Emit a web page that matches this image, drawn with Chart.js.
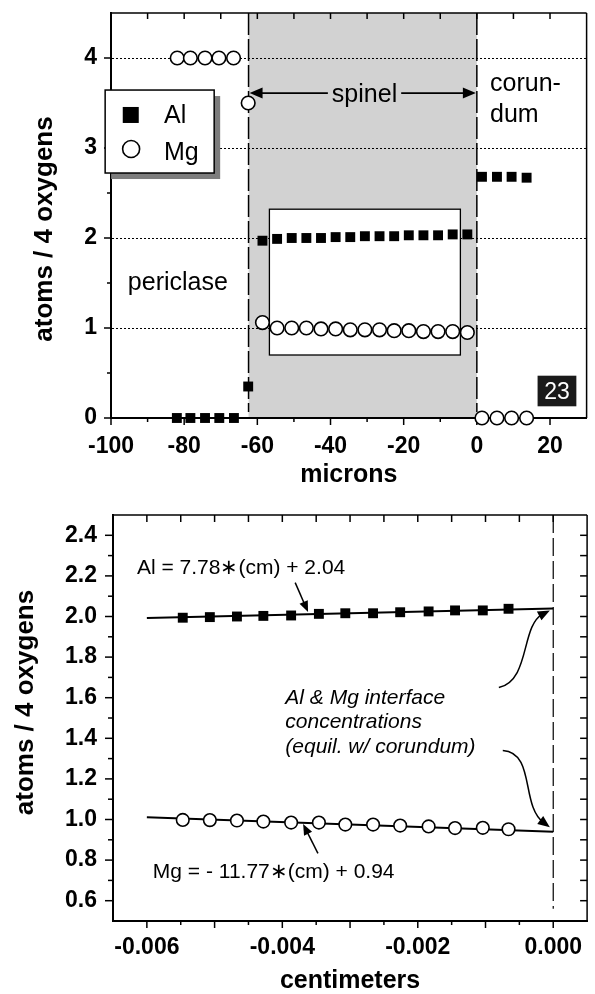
<!DOCTYPE html>
<html><head><meta charset="utf-8">
<script src="https://cdn.jsdelivr.net/npm/chart.js@4.4.1/dist/chart.umd.min.js"></script>
<style>
html,body{margin:0;padding:0;background:#fff;}
#wrap{position:relative;width:595px;height:994px;overflow:hidden;background:#fff;}
canvas{position:absolute;left:0;}
#c1{top:0;} #c2{top:500px;}
</style></head><body>
<div id="wrap">
<canvas id="c1" width="595" height="500"></canvas>
<canvas id="c2" width="595" height="494"></canvas>
</div>
<script>
// ---------------- TOP PANEL DATA (microns vs atoms / 4 oxygens) ----------------
const alMicrons = [-82.0,-78.3,-74.3,-70.4,-66.4,-62.5,
  -58.6,-54.6,-50.6,-46.6,-42.6,-38.6,-34.6,-30.6,-26.6,-22.6,-18.6,-14.6,-10.6,-6.6,-2.6,
  1.4,5.5,9.5,13.6];
const alAtoms = [0,0,0,0,0,0.35,
  1.97,1.99,2.00,2.00,2.00,2.01,2.01,2.02,2.02,2.02,2.03,2.03,2.03,2.04,2.04,
  2.68,2.68,2.68,2.67];
const mgMicrons = [-81.9,-78.3,-74.3,-70.5,-66.5,-62.5,
  -58.6,-54.6,-50.6,-46.6,-42.6,-38.6,-34.6,-30.6,-26.6,-22.6,-18.6,-14.6,-10.6,-6.6,-2.6,
  1.4,5.5,9.5,13.6];
const mgAtoms = [4,4,4,4,4,3.5,
  1.06,1.00,1.00,1.00,0.99,0.99,0.98,0.98,0.98,0.97,0.97,0.96,0.96,0.96,0.95,
  0,0,0,0];
const interfaces = [-62.4, 0];          // periclase|spinel, spinel|corundum
const topXTicks = [-100,-80,-60,-40,-20,0,20];
const topXMinor = [-90,-70,-50,-30,-10,10];
const topYTicks = [0,1,2,3,4];
const topYMinor = [0.5,1.5,2.5,3.5];

// ---------------- BOTTOM PANEL DATA (centimeters vs atoms / 4 oxygens) ----------------
const insetCm = [-0.00547,-0.00507,-0.00467,-0.00428,-0.00387,-0.00346,-0.00307,-0.00266,-0.00226,-0.00184,-0.00145,-0.00104,-0.00066];
const alInset = [1.994,1.997,2.000,2.003,2.005,2.013,2.016,2.016,2.021,2.025,2.030,2.030,2.038];
const mgInset = [0.998,0.997,0.995,0.990,0.985,0.985,0.975,0.975,0.970,0.966,0.958,0.959,0.952];
const fitCm = [-0.006, 0.000];
const alFit = [1.993, 2.040];
const mgFit = [1.011, 0.940];
const botXTicks = [-0.006,-0.004,-0.002,0.000];
const botXMajor = [-0.006,-0.005,-0.004,-0.003,-0.002,-0.001,0.000];
const botXMinor = [-0.0055,-0.0045,-0.0035,-0.0025,-0.0015,-0.0005];
const botYTicks = [0.6,0.8,1.0,1.2,1.4,1.6,1.8,2.0,2.2,2.4];
const botYMinor = [0.7,0.9,1.1,1.3,1.5,1.7,1.9,2.1,2.3];

const FONT = '"Liberation Sans", Arial, Helvetica, sans-serif';
const pts = (xs, ys) => xs.map((x, i) => ({x, y: ys[i]}));

function line(ctx, x1, y1, x2, y2){ ctx.beginPath(); ctx.moveTo(x1,y1); ctx.lineTo(x2,y2); ctx.stroke(); }
function arrowHead(ctx, x, y, ang, len, w){
  const c = Math.cos(ang), s = Math.sin(ang);
  ctx.beginPath();
  ctx.moveTo(x, y);
  ctx.lineTo(x - len*c + w*s, y - len*s - w*c);
  ctx.lineTo(x - len*c - w*s, y - len*s + w*c);
  ctx.closePath(); ctx.fill();
}
function text(ctx, s, x, y, font, align, color){
  ctx.font = font; ctx.fillStyle = color || '#000';
  ctx.textAlign = align || 'left'; ctx.textBaseline = 'alphabetic';
  ctx.fillText(s, x, y);
}
function fixX(h){ return s => { s.height = h; s.paddingLeft = 0; s.paddingRight = 0; s.paddingTop = 0; s.paddingBottom = 0; }; }
function fixY(w){ return s => { s.width = w; s.paddingLeft = 0; s.paddingRight = 0; s.paddingTop = 0; s.paddingBottom = 0; }; }
// nudge layout padding so the plot area lands on the wanted frame
function pinArea(chart, want){
  for (let k = 0; k < 3; k++){
    const a = chart.chartArea, p = chart.options.layout.padding;
    const dl = want.left - a.left, dr = a.right - want.right, dt = want.top - a.top, db = a.bottom - want.bottom;
    if (Math.abs(dl) + Math.abs(dr) + Math.abs(dt) + Math.abs(db) < 0.5) break;
    p.left += dl; p.right += dr; p.top += dt; p.bottom += db;
    chart.update('none');
  }
}

// ---------------- TOP CHART ----------------
const topDecor = {
  id: 'topDecor',
  beforeDraw(chart){
    const {ctx, chartArea: a} = chart;
    const X = chart.scales.x;
    ctx.save();
    ctx.fillStyle = '#fff'; ctx.fillRect(0, 0, chart.width, chart.height);
    const x0 = X.getPixelForValue(interfaces[0]), x1 = X.getPixelForValue(interfaces[1]);
    ctx.fillStyle = '#d2d2d2'; ctx.fillRect(x0, a.top, x1 - x0, a.bottom - a.top);
    ctx.restore();
  },
  beforeDatasetsDraw(chart){
    const {ctx, chartArea: a} = chart;
    const X = chart.scales.x, Y = chart.scales.y;
    const P = (x, y) => [X.getPixelForValue(x), Y.getPixelForValue(y)];
    ctx.save();
    ctx.strokeStyle = '#000'; ctx.fillStyle = '#000'; ctx.lineWidth = 1.5;
    // frame top/right
    line(ctx, a.left, a.top, a.right, a.top);
    line(ctx, a.right, a.top, a.right, a.bottom);
    // tick marks
    topYTicks.forEach(v => { const y = Y.getPixelForValue(v); line(ctx, a.left - 7, y, a.left, y); });
    topYMinor.forEach(v => { const y = Y.getPixelForValue(v); line(ctx, a.left - 4, y, a.left, y); });
    topXTicks.forEach(v => { const x = X.getPixelForValue(v); line(ctx, x, a.bottom, x, a.bottom + 7); });
    topXMinor.forEach(v => { const x = X.getPixelForValue(v); line(ctx, x, a.bottom, x, a.bottom + 4); });
    topXTicks.concat(topXMinor).forEach(v => { if (v > -100) { const x = X.getPixelForValue(v); line(ctx, x, a.top, x, a.top + 6); } });
    // interface dashed lines
    ctx.setLineDash([22, 4]); ctx.lineWidth = 1.5;
    interfaces.forEach(v => { const x = X.getPixelForValue(v); line(ctx, x, a.top, x, a.bottom - 6); });
    ctx.setLineDash([]);
    // inner white box (spinel inset region)
    let [bx0, by0] = P(-56.7, 2.32), [bx1, by1] = P(-4.5, 0.70);
    ctx.fillStyle = '#fff'; ctx.fillRect(bx0, by0, bx1 - bx0, by1 - by0);
    ctx.lineWidth = 1.3; ctx.strokeRect(bx0, by0, bx1 - bx0, by1 - by0);
    // spinel arrow
    ctx.fillStyle = '#000';
    const [sx0, sy] = P(interfaces[0], 3.61), [sx1] = P(interfaces[1], 3.61);
    const [tx, tyb] = P(-30.7, 3.51);
    ctx.font = '25px ' + FONT;
    const tw = ctx.measureText('spinel').width;
    ctx.lineWidth = 1.8;
    line(ctx, sx0 + 8, sy, tx - tw/2 - 4, sy);
    line(ctx, tx + tw/2 + 4, sy, sx1 - 8, sy);
    arrowHead(ctx, sx0 + 1, sy, Math.PI, 13, 5.5);
    arrowHead(ctx, sx1 - 1, sy, 0, 13, 5.5);
    text(ctx, 'spinel', tx, tyb, '25px ' + FONT, 'center');
    // region labels
    let p = P(-95.4, 1.42); text(ctx, 'periclase', p[0], p[1], '25px ' + FONT);
    p = P(3.6, 3.63); text(ctx, 'corun-', p[0], p[1], '25px ' + FONT);
    p = P(3.6, 3.29); text(ctx, 'dum', p[0], p[1], '25px ' + FONT);
    // panel number badge
    let [gx0, gy0] = P(16.6, 0.47), [gx1, gy1] = P(27.2, 0.13);
    ctx.fillStyle = '#1a1a1a'; ctx.fillRect(gx0, gy0, gx1 - gx0, gy1 - gy0);
    text(ctx, '23', (gx0 + gx1)/2, gy1 - 7, '23px ' + FONT, 'center', '#fff');
    // legend with shadow
    let [lx0, ly0] = P(-101.6, 3.644), [lx1, ly1] = P(-71.8, 2.722);
    ctx.fillStyle = '#7d7d7d'; ctx.fillRect(lx0 + 6, ly0 + 6, lx1 - lx0, ly1 - ly0);
    ctx.fillStyle = '#fff'; ctx.fillRect(lx0, ly0, lx1 - lx0, ly1 - ly0);
    ctx.strokeStyle = '#000'; ctx.lineWidth = 1.5; ctx.strokeRect(lx0, ly0, lx1 - lx0, ly1 - ly0);
    ctx.fillStyle = '#000';
    p = P(-94.6, 3.367); ctx.fillRect(p[0] - 8, p[1] - 8, 16, 16);
    p = P(-94.5, 2.989); ctx.beginPath(); ctx.arc(p[0], p[1], 8.5, 0, Math.PI*2); ctx.fillStyle = '#fff'; ctx.fill(); ctx.lineWidth = 1.6; ctx.stroke();
    p = P(-85.5, 3.278); text(ctx, 'Al', p[0], p[1], '25px ' + FONT);
    p = P(-85.5, 2.867); text(ctx, 'Mg', p[0], p[1], '25px ' + FONT);
    ctx.restore();
  },
  afterDraw(chart){
    const ctx = chart.ctx;
    ctx.save();
    ctx.translate(52, 229); ctx.rotate(-Math.PI/2);
    text(ctx, 'atoms / 4 oxygens', 0, 0, 'bold 26px ' + FONT, 'center');
    ctx.restore();
  }
};

const tickFont = {family: FONT, size: 23, weight: 'bold', lineHeight: 1};
const titleFont = {family: FONT, size: 25, weight: 'bold', lineHeight: 1};

const chartTop = new Chart(document.getElementById('c1'), {
  type: 'scatter',
  data: {datasets: [
    {label: 'Al', data: pts(alMicrons, alAtoms), pointStyle: 'rect', pointRadius: 7, pointBackgroundColor: '#000', pointBorderColor: '#000', pointBorderWidth: 0, showLine: false, clip: false},
    {label: 'Mg', data: pts(mgMicrons, mgAtoms), pointStyle: 'circle', pointRadius: 6.8, pointBackgroundColor: '#fff', pointBorderColor: '#000', pointBorderWidth: 1.6, showLine: false, clip: false}
  ]},
  options: {
    responsive: false, animation: false, events: [],
    layout: {padding: {top: 13, right: 3, left: 0, bottom: 0}},
    plugins: {legend: {display: false}, tooltip: {enabled: false}},
    scales: {
      x: {type: 'linear', min: -100, max: 30,
        afterBuildTicks: s => { s.ticks = topXTicks.map(v => ({value: v})); },
        afterFit: fixX(82),
        grid: {display: false, drawTicks: false},
        border: {display: true, color: '#000', width: 2},
        ticks: {padding: 17, color: '#000', font: tickFont, maxRotation: 0, autoSkip: false, callback: v => String(v)},
        title: {display: true, text: 'microns', color: '#000', font: titleFont, padding: {top: 0, bottom: 12}}
      },
      y: {type: 'linear', min: 0, max: 4.5,
        afterBuildTicks: s => { s.ticks = topYTicks.map(v => ({value: v})); },
        afterFit: fixY(111),
        grid: {display: true, drawTicks: false, color: '#000', lineWidth: 1},
        border: {display: true, color: '#000', width: 2, dash: [2, 2]},
        ticks: {padding: 14, color: '#000', font: tickFont, callback: v => String(v)}
      }
    }
  },
  plugins: [topDecor]
});
pinArea(chartTop, {left: 111, right: 592, top: 13, bottom: 418});

// ---------------- BOTTOM CHART ----------------
const botDecor = {
  id: 'botDecor',
  beforeDraw(chart){
    const ctx = chart.ctx;
    ctx.save(); ctx.fillStyle = '#fff'; ctx.fillRect(0, 0, chart.width, chart.height); ctx.restore();
  },
  beforeDatasetsDraw(chart){
    const {ctx, chartArea: a} = chart;
    const X = chart.scales.x, Y = chart.scales.y;
    ctx.save();
    ctx.strokeStyle = '#000'; ctx.lineWidth = 1.5;
    line(ctx, a.left, a.top, a.right, a.top);
    line(ctx, a.right, a.top, a.right, a.bottom);
    botYTicks.forEach(v => { const y = Y.getPixelForValue(v); line(ctx, a.left - 8, y, a.left, y); line(ctx, a.right - 7, y, a.right, y); });
    botYMinor.forEach(v => { const y = Y.getPixelForValue(v); line(ctx, a.left - 5, y, a.left, y); line(ctx, a.right - 7, y, a.right, y); });
    botXMajor.forEach(v => { const x = X.getPixelForValue(v); line(ctx, x, a.bottom, x, a.bottom + 7); line(ctx, x, a.top, x, a.top + 7); });
    botXMinor.forEach(v => { const x = X.getPixelForValue(v); line(ctx, x, a.bottom, x, a.bottom + 4); line(ctx, x, a.top, x, a.top + 7); });
    // interface at x = 0
    ctx.setLineDash([18, 5]); ctx.lineWidth = 1.2;
    const x0 = X.getPixelForValue(0);
    line(ctx, x0, a.top, x0, Y.getPixelForValue(0.56));
    ctx.restore();
  },
  afterDatasetsDraw(chart){
    const {ctx} = chart;
    const X = chart.scales.x, Y = chart.scales.y;
    const P = (x, y) => [X.getPixelForValue(x), Y.getPixelForValue(y)];
    ctx.save();
    ctx.strokeStyle = '#000'; ctx.fillStyle = '#000'; ctx.lineWidth = 1.5;
    let p = P(-0.006146, 2.207); text(ctx, 'Al = 7.78\u2217(cm) + 2.04', p[0], p[1], '21px ' + FONT);
    p = P(-0.005912, 0.71); text(ctx, 'Mg = - 11.77\u2217(cm) + 0.94', p[0], p[1], '21px ' + FONT);
    const it = 'italic 21px ' + FONT;
    p = P(-0.003956, 1.5714); text(ctx, 'Al & Mg interface', p[0], p[1], it);
    p = P(-0.003956, 1.4483); text(ctx, 'concentrations', p[0], p[1], it);
    p = P(-0.003956, 1.3300); text(ctx, '(equil. w/ corundum)', p[0], p[1], it);
    // straight arrows to the fits
    const straight = (a, b) => {
      const [x1, y1] = P(a[0], a[1]), [x2, y2] = P(b[0], b[1]);
      const ang = Math.atan2(y2 - y1, x2 - x1);
      line(ctx, x1, y1, x2 - 8*Math.cos(ang), y2 - 8*Math.sin(ang));
      arrowHead(ctx, x2, y2, ang, 11, 4.5);
    };
    straight([-0.00381, 2.167], [-0.00362, 2.022]);
    straight([-0.003474, 0.833], [-0.003693, 0.978]);
    // curved arrows to the interface concentrations
    const curved = (s, c1, c2, e) => {
      const [x0, y0] = P(s[0], s[1]), [ax, ay] = P(c1[0], c1[1]), [bx, by] = P(c2[0], c2[1]), [ex, ey] = P(e[0], e[1]);
      const ang = Math.atan2(ey - by, ex - bx);
      ctx.beginPath(); ctx.moveTo(x0, y0); ctx.bezierCurveTo(ax, ay, bx, by, ex - 8*Math.cos(ang), ey - 8*Math.sin(ang)); ctx.stroke();
      arrowHead(ctx, ex, ey, ang, 12, 5);
    };
    curved([-0.000803, 1.650], [-0.000336, 1.685], [-0.000482, 1.956], [-0.00005, 2.030]);
    curved([-0.000745, 1.340], [-0.000263, 1.330], [-0.000482, 1.069], [-0.00005, 0.962]);
    ctx.restore();
  },
  afterDraw(chart){
    const ctx = chart.ctx;
    ctx.save();
    ctx.translate(33, 202.5); ctx.rotate(-Math.PI/2);
    text(ctx, 'atoms / 4 oxygens', 0, 0, 'bold 26px ' + FONT, 'center');
    ctx.restore();
  }
};

const chartBot = new Chart(document.getElementById('c2'), {
  type: 'scatter',
  data: {datasets: [
    {label: 'Al', data: pts(insetCm, alInset), pointStyle: 'rect', pointRadius: 7, pointBackgroundColor: '#000', pointBorderColor: '#000', pointBorderWidth: 0, showLine: false, clip: false},
    {label: 'Mg', data: pts(insetCm, mgInset), pointStyle: 'circle', pointRadius: 6.3, pointBackgroundColor: '#fff', pointBorderColor: '#000', pointBorderWidth: 1.6, showLine: false, clip: false},
    {label: 'Al fit', data: pts(fitCm, alFit), showLine: true, pointRadius: 0, borderColor: '#000', borderWidth: 2, clip: false},
    {label: 'Mg fit', data: pts(fitCm, mgFit), showLine: true, pointRadius: 0, borderColor: '#000', borderWidth: 2, clip: false}
  ]},
  options: {
    responsive: false, animation: false, events: [],
    layout: {padding: {top: 15, right: 2, left: 0, bottom: 0}},
    plugins: {legend: {display: false}, tooltip: {enabled: false}},
    scales: {
      x: {type: 'linear', min: -0.0065, max: 0.0005,
        afterBuildTicks: s => { s.ticks = botXTicks.map(v => ({value: v})); },
        afterFit: fixX(73),
        grid: {display: false, drawTicks: false},
        border: {display: true, color: '#000', width: 2},
        ticks: {padding: 15, color: '#000', font: tickFont, maxRotation: 0, autoSkip: false, callback: v => Number(v).toFixed(3)},
        title: {display: true, text: 'centimeters', color: '#000', font: titleFont, padding: {top: 0, bottom: 0}}
      },
      y: {type: 'linear', min: 0.5, max: 2.5,
        afterBuildTicks: s => { s.ticks = botYTicks.map(v => ({value: v})); },
        afterFit: fixY(113),
        grid: {display: false, drawTicks: false},
        border: {display: true, color: '#000', width: 2},
        ticks: {padding: 16, color: '#000', font: tickFont, callback: v => Number(v).toFixed(1)}
      }
    }
  },
  plugins: [botDecor]
});
pinArea(chartBot, {left: 113, right: 593, top: 15, bottom: 421});
</script>
</body></html>
